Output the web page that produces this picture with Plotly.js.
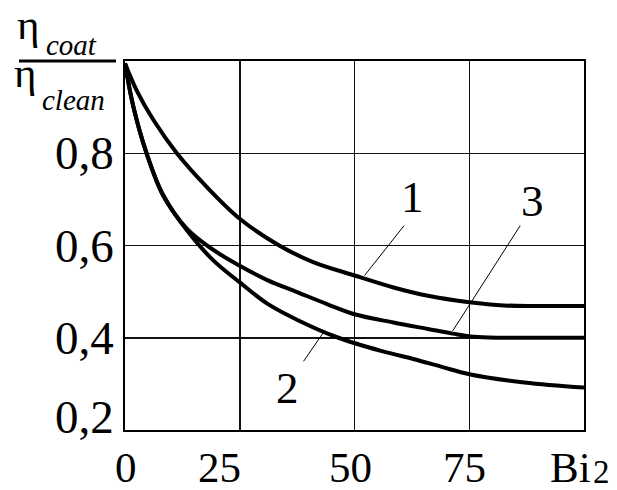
<!DOCTYPE html>
<html><head><meta charset="utf-8">
<script src="https://cdn.plot.ly/plotly-3.0.1.min.js"></script>
<style>html,body{margin:0;padding:0;background:#fff}#chart{width:617px;height:490px}</style>
</head><body><div id="chart"></div>
<script>
// Curve 1 (top)
const bi1  = [0, 2.5, 6.2, 11.3, 17.8, 25, 33.6, 41, 50, 58.5, 66, 75, 82.6, 90, 100];
const eta1 = [0.995, 0.937, 0.872, 0.80, 0.727, 0.658, 0.600, 0.564, 0.535, 0.509, 0.491, 0.477, 0.470, 0.469, 0.469];
// Curve 2 (bottom at the end)
const bi2  = [0, 1.8, 4.7, 8.3, 13.4, 19, 25, 31, 37.9, 46.5, 56, 62.8, 69, 75, 87, 100];
const eta2 = [0.995, 0.902, 0.80, 0.708, 0.634, 0.570, 0.520, 0.474, 0.437, 0.400, 0.371, 0.354, 0.337, 0.321, 0.303, 0.292];
// Curve 3 (middle at the end)
const bi3  = [0, 1.8, 4.7, 8.3, 13.4, 19, 25, 31, 37.5, 44, 50, 58.5, 66, 71.4, 76, 82, 90, 100];
const eta3 = [0.995, 0.902, 0.80, 0.71, 0.637, 0.592, 0.556, 0.525, 0.499, 0.473, 0.451, 0.433, 0.419, 0.409, 0.402, 0.400, 0.400, 0.400];

const xTickVals = [0, 25, 50, 75];
const xTickText = ['0', '25', '50', '75'];
const yTickVals = [0.2, 0.4, 0.6, 0.8];
const yTickText = ['0,2', '0,4', '0,6', '0,8'];

const curveLabels = ['1', '2', '3'];
const labelBi  = [62.7, 35.3, 88.7];
const labelEta = [0.705, 0.291, 0.696];
// leader lines: [from label, to curve]
const leader1Bi = [60.8, 52.2], leader1Eta = [0.643, 0.535];
const leader2Bi = [38.9, 43.2], leader2Eta = [0.349, 0.411];
const leader3Bi = [86.1, 71.4], leader3Eta = [0.643, 0.415];

const FONT = 'Liberation Serif, Times New Roman, serif';
const W = 617, H = 490, L = 125, R = 33, T = 61, B = 60;
const pw = W - L - R, ph = H - T - B;
const px = v => (v - L) / pw;          // pixel x -> paper
const py = v => (H - B - v) / ph;      // pixel y -> paper

const curve = (x, y) => ({x, y, type: 'scatter', mode: 'lines',
  line: {color: '#000', width: 4, shape: 'spline', smoothing: 1}, hoverinfo: 'skip'});
const lead = (x, y) => ({x, y, type: 'scatter', mode: 'lines',
  line: {color: '#000', width: 1}, hoverinfo: 'skip'});

const data = [curve(bi1, eta1), curve(bi2, eta2), curve(bi3, eta3),
  lead(leader1Bi, leader1Eta), lead(leader2Bi, leader2Eta), lead(leader3Bi, leader3Eta)];

const f = (s, st) => ({family: FONT, size: s, color: '#000', style: st || 'normal'});
const ann = [];
yTickVals.forEach((v, i) => ann.push({xref: 'paper', yref: 'y', x: 0, y: v,
  xanchor: 'right', yanchor: 'middle', xshift: -9, yshift: (v === 0.2 ? 13 : 0),
  text: yTickText[i], showarrow: false, font: f(47)}));
const xShift = [1, -20, -4, -5];
xTickVals.forEach((v, i) => ann.push({xref: 'x', yref: 'paper', x: v, y: 0,
  xanchor: 'center', yanchor: 'top', xshift: xShift[i], yshift: -12,
  text: xTickText[i], showarrow: false, font: f(43)}));
// axis name Bi with a large subscript 2
ann.push({xref: 'paper', yref: 'paper', x: px(548), y: 0, xanchor: 'left', yanchor: 'top', yshift: -12,
  text: 'Bi', showarrow: false, font: f(43)});
ann.push({xref: 'paper', yref: 'paper', x: px(591), y: py(472), xanchor: 'left', yanchor: 'middle',
  text: '2', showarrow: false, font: f(33)});
curveLabels.forEach((t, i) => ann.push({xref: 'x', yref: 'y', x: labelBi[i], y: labelEta[i],
  xanchor: 'center', yanchor: 'middle', text: t, showarrow: false, font: f(45)}));
// axis title as a fraction: eta_coat / eta_clean
const titleParts = [
  {t: 'η', x: 15, y: 25, s: 43, st: 'normal'},
  {t: 'coat', x: 44, y: 45, s: 29, st: 'italic'},
  {t: 'η', x: 12, y: 73, s: 43, st: 'normal'},
  {t: 'clean', x: 40, y: 100, s: 29, st: 'italic'}
];
titleParts.forEach(p => ann.push({xref: 'paper', yref: 'paper', x: px(p.x), y: py(p.y),
  xanchor: 'left', yanchor: 'middle', text: p.t, showarrow: false, font: f(p.s, p.st)}));

const shapes = [{type: 'line', xref: 'paper', yref: 'paper', x0: px(19), x1: px(116), y0: py(61), y1: py(61),
  line: {color: '#000', width: 3}}];

const axisCommon = {showline: true, mirror: true, linecolor: '#000', linewidth: 2,
  showgrid: true, gridcolor: '#111', gridwidth: 1.5, zeroline: false, showticklabels: false, ticks: ''};

const layout = {
  width: W, height: H, margin: {l: L, r: R, t: T, b: B},
  paper_bgcolor: '#fff', plot_bgcolor: '#fff', showlegend: false,
  font: {family: FONT},
  xaxis: Object.assign({range: [0, 100], tickvals: [25, 50, 75]}, axisCommon),
  yaxis: Object.assign({range: [0.2, 1.0], tickvals: [0.4, 0.6, 0.8]}, axisCommon),
  annotations: ann, shapes: shapes
};
Plotly.newPlot('chart', data, layout, {displayModeBar: false, staticPlot: true});
</script></body></html>
